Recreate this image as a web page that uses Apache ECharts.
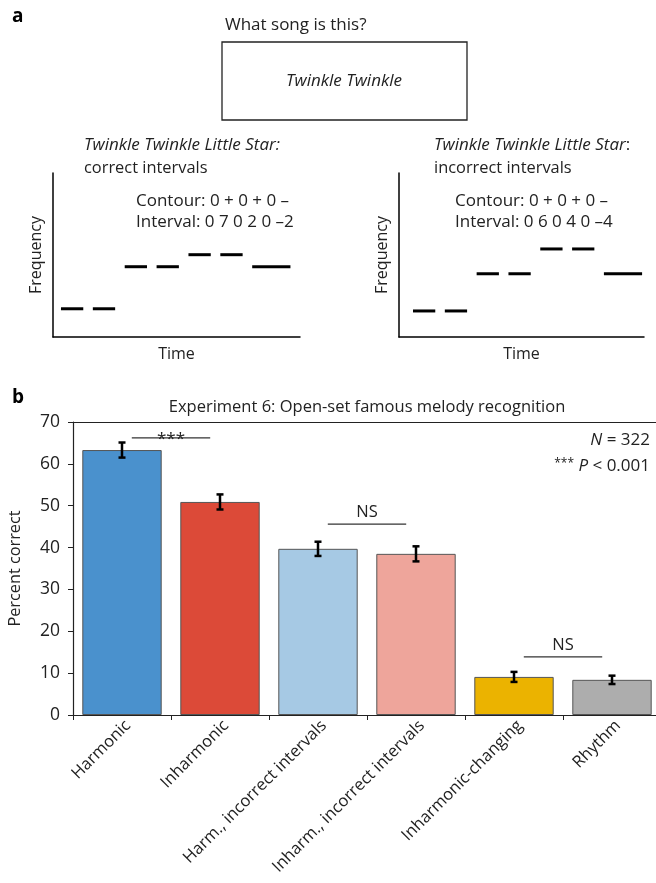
<!DOCTYPE html>
<html>
<head>
<meta charset="utf-8">
<script src="https://cdn.jsdelivr.net/npm/echarts@6/dist/echarts.min.js"></script>
<style>
  html, body { margin: 0; padding: 0; background: #fff; }
  #chart { width: 656px; height: 883px; }
</style>
</head>
<body>
<div id="chart"></div>
<script>
// Panel a: the melody drawn as note dashes (time in beats, pitch in semitones)
const noteOnsets = [0, 1, 2, 3, 4, 5, 6];
const noteLengths = [0.7, 0.7, 0.7, 0.7, 0.7, 0.7, 1.2];
const correctPitches = [0, 0, 7, 7, 9, 9, 7];
const incorrectPitches = [0, 0, 6, 6, 10, 10, 6];

// Panel b: recognition accuracy per condition
const categories = ['Harmonic', 'Inharmonic', 'Harm., incorrect intervals',
  'Inharm., incorrect intervals', 'Inharmonic-changing', 'Rhythm'];
const percentCorrect = [63.3, 50.9, 39.7, 38.5, 9.1, 8.4];
const sem = [1.8, 1.8, 1.7, 1.8, 1.2, 1.0];
const barColors = ['#4a91cd', '#dc4a38', '#a6c9e4', '#eea59b', '#ebb300', '#adadad'];
const yTicks = [0, 10, 20, 30, 40, 50, 60, 70];

// Significance brackets: [first bar, second bar, height, label]
const sigPairs = [[0, 1, 66.2, '***'], [2, 3, 45.6, 'NS'], [4, 5, 13.9, 'NS']];

const FONT = '"Open Sans"';
const INK = '#222';

function noteData(pitches) {
  return noteOnsets.map((t, i) => [t, t + noteLengths[i], pitches[i]]);
}

function renderNote(params, api) {
  const a = api.coord([api.value(0), api.value(2)]);
  const b = api.coord([api.value(1), api.value(2)]);
  return { type: 'line', shape: { x1: a[0], y1: a[1], x2: b[0], y2: b[1] },
    style: { stroke: '#000', lineWidth: 3 } };
}

function renderError(params, api) {
  const i = api.value(0);
  const lo = api.coord([i, api.value(1)]);
  const hi = api.coord([i, api.value(2)]);
  const cap = 3.5;
  const s = { stroke: '#000', lineWidth: 2.5 };
  return { type: 'group', children: [
    { type: 'line', shape: { x1: lo[0], y1: lo[1], x2: hi[0], y2: hi[1] }, style: s },
    { type: 'line', shape: { x1: lo[0] - cap, y1: lo[1], x2: lo[0] + cap, y2: lo[1] }, style: s },
    { type: 'line', shape: { x1: hi[0] - cap, y1: hi[1], x2: hi[0] + cap, y2: hi[1] }, style: s }
  ] };
}

function renderSig(params, api) {
  const a = api.coord([api.value(0), api.value(2)]);
  const b = api.coord([api.value(1), api.value(2)]);
  const band = api.size([1, 0])[0];
  const mid = (a[0] + b[0]) / 2;
  const half = band * 0.4;
  const label = sigPairs[params.dataIndex][3];
  const stars = label === '***';
  return { type: 'group', children: [
    { type: 'line', shape: { x1: mid - half, y1: a[1], x2: mid + half, y2: a[1] },
      style: { stroke: '#333', lineWidth: 1.3 } },
    { type: 'text', style: { text: label, x: mid, y: stars ? a[1] + 1 : a[1] - 12,
      textAlign: 'center', textVerticalAlign: 'middle',
      font: (stars ? '17px ' : '16.5px ') + FONT, fill: INK } }
  ] };
}

function melodyAxes(grid, xmin, xmax, ymin, ymax) {
  const line = { show: true, onZero: false, lineStyle: { color: '#000', width: 1.5 } };
  return {
    x: { type: 'value', gridIndex: grid, min: xmin, max: xmax, axisLine: line,
      axisTick: { show: false }, axisLabel: { show: false }, splitLine: { show: false },
      name: 'Time', nameLocation: 'middle', nameGap: 9,
      nameTextStyle: { fontFamily: FONT, fontSize: 16, color: INK } },
    y: { type: 'value', gridIndex: grid, min: ymin, max: ymax, axisLine: line,
      axisTick: { show: false }, axisLabel: { show: false }, splitLine: { show: false },
      name: 'Frequency', nameLocation: 'middle', nameGap: 9,
      nameTextStyle: { fontFamily: FONT, fontSize: 16, color: INK } }
  };
}

const left = melodyAxes(0, -0.25, 7.5, -4.7, 22.6);
const right = melodyAxes(1, -0.44, 7.26, -4.2, 22.25);

function txt(text, x, y, opts) {
  return { type: 'text', style: Object.assign({ text, x, y, textVerticalAlign: 'middle',
    font: '17px ' + FONT, fill: INK }, opts || {}) };
}

const chart = echarts.init(document.getElementById('chart'), null, { renderer: 'canvas' });
chart.setOption({
  animation: false,
  backgroundColor: '#fff',
  grid: [
    { left: 53, top: 173, width: 247, height: 164, outerBoundsMode: 'none' },
    { left: 399, top: 173, width: 245, height: 164, outerBoundsMode: 'none' },
    { left: 73, top: 422, width: 588, height: 293, outerBoundsMode: 'none' }
  ],
  xAxis: [
    left.x, right.x,
    { type: 'category', gridIndex: 2, data: categories,
      axisLine: { lineStyle: { color: INK, width: 1.2 } },
      axisTick: { show: true, length: 5, lineStyle: { color: INK } },
      axisLabel: { rotate: 45, margin: 2, verticalAlign: 'top',
        fontFamily: FONT, fontSize: 16.5, color: INK },
      splitLine: { show: false } },
    { type: 'category', gridIndex: 2, position: 'top', data: categories,
      axisLine: { lineStyle: { color: INK, width: 1.2 } },
      axisTick: { show: false }, axisLabel: { show: false } }
  ],
  yAxis: [
    left.y, right.y,
    { type: 'value', gridIndex: 2, min: yTicks[0], max: yTicks[yTicks.length - 1], interval: 10,
      axisLine: { show: true, lineStyle: { color: INK, width: 1.2 } },
      axisTick: { show: true, length: 5, lineStyle: { color: INK } },
      axisLabel: { margin: 13, fontFamily: FONT, fontSize: 17.5, color: INK },
      splitLine: { show: false },
      name: 'Percent correct', nameLocation: 'middle', nameGap: 50,
      nameTextStyle: { fontFamily: FONT, fontSize: 16.3, color: INK } }
  ],
  series: [
    { type: 'custom', xAxisIndex: 0, yAxisIndex: 0, renderItem: renderNote,
      data: noteData(correctPitches) },
    { type: 'custom', xAxisIndex: 1, yAxisIndex: 1, renderItem: renderNote,
      data: noteData(incorrectPitches) },
    { type: 'bar', xAxisIndex: 2, yAxisIndex: 2, barCategoryGap: '19%',
      data: percentCorrect.map((v, i) => ({ value: v,
        itemStyle: { color: barColors[i], borderColor: '#555', borderWidth: 1 } })) },
    { type: 'custom', xAxisIndex: 2, yAxisIndex: 2, renderItem: renderError, z: 5,
      data: percentCorrect.map((v, i) => [i, v - sem[i], v + sem[i]]) },
    { type: 'custom', xAxisIndex: 2, yAxisIndex: 2, renderItem: renderSig, z: 5,
      data: sigPairs.map(p => [p[0], p[1], p[2]]) }
  ],
  graphic: [
    txt('a', 12, 17, { font: 'bold 19px ' + FONT, fill: '#000' }),
    txt('What song is this?', 225, 25),
    { type: 'rect', shape: { x: 222, y: 42, width: 245, height: 78 },
      style: { fill: 'none', stroke: '#222', lineWidth: 1.3 } },
    txt('Twinkle Twinkle', 344, 81, { textAlign: 'center', font: 'italic 17px ' + FONT }),

    txt('Twinkle Twinkle Little Star:', 84, 145, { font: 'italic 17px ' + FONT }),
    txt('correct intervals', 84, 168, { font: '16.4px ' + FONT }),
    txt('Contour: 0 + 0 + 0 \u2013', 136, 201),
    txt('Interval: 0 7 0 2 0 \u20132', 136, 222),

    { type: 'text', style: { x: 434, y: 145, textVerticalAlign: 'middle',
      text: '{i|Twinkle Twinkle Little Star}:', font: '17px ' + FONT, fill: INK,
      rich: { i: { fontStyle: 'italic', fontSize: 17, fontFamily: FONT, fill: INK } } } },
    txt('incorrect intervals', 434, 168, { font: '16.4px ' + FONT }),
    txt('Contour: 0 + 0 + 0 \u2013', 455, 201),
    txt('Interval: 0 6 0 4 0 \u20134', 455, 222),

    txt('b', 12, 398, { font: 'bold 19px ' + FONT, fill: '#000' }),
    txt('Experiment 6: Open-set famous melody recognition', 367, 407,
      { textAlign: 'center', font: '16.5px ' + FONT }),
    { type: 'text', style: { x: 650, y: 440, textAlign: 'right', textVerticalAlign: 'middle',
      text: '{i|N} = 322', font: '17px ' + FONT, fill: INK,
      rich: { i: { fontStyle: 'italic', fontSize: 17, fontFamily: FONT, fill: INK } } } },
    { type: 'text', style: { x: 650, y: 466, textAlign: 'right', textVerticalAlign: 'middle',
      text: '{s|***} {i|P} < 0.001', font: '17px ' + FONT, fill: INK,
      rich: { s: { fontSize: 12, fontFamily: FONT, fill: INK, verticalAlign: 'top' },
              i: { fontStyle: 'italic', fontSize: 17, fontFamily: FONT, fill: INK } } } }
  ]
});
</script>
</body>
</html>
